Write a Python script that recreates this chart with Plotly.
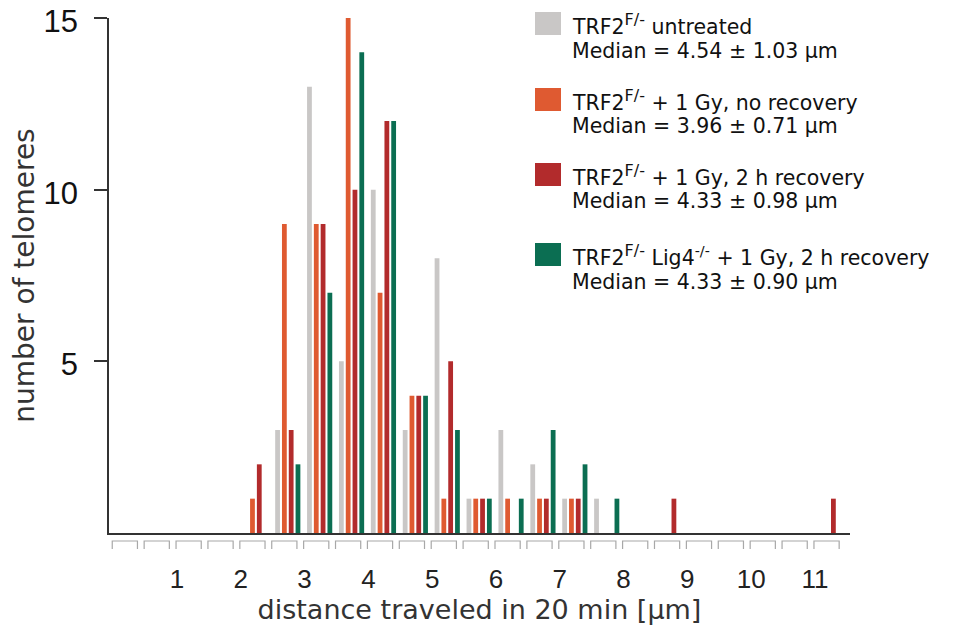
import plotly.graph_objects as go

# ---- data ----
bin_starts = [0.0, 0.5, 1.0, 1.5, 2.0, 2.5, 3.0, 3.5, 4.0, 4.5, 5.0, 5.5,
              6.0, 6.5, 7.0, 7.5, 8.0, 8.5, 9.0, 9.5, 10.0, 10.5, 11.0]
untreated    = [0, 0, 0, 0, 0, 3, 13, 5, 10, 3, 8, 1, 3, 2, 1, 1, 0, 0, 0, 0, 0, 0, 0]
no_recovery  = [0, 0, 0, 0, 1, 9, 9, 15, 7, 4, 1, 1, 1, 1, 1, 0, 0, 0, 0, 0, 0, 0, 0]
recovery_2h  = [0, 0, 0, 0, 2, 3, 9, 10, 12, 4, 5, 1, 0, 1, 1, 0, 0, 1, 0, 0, 0, 0, 1]
lig4_2h      = [0, 0, 0, 0, 0, 2, 7, 14, 12, 4, 3, 1, 1, 3, 2, 1, 0, 0, 0, 0, 0, 0, 0]

series_values = [untreated, no_recovery, recovery_2h, lig4_2h]
SUP = "<sup><span style='font-size:16px'>%s</span></sup>"
series_names = ["TRF2" + SUP % "F/-" + " untreated",
                "TRF2" + SUP % "F/-" + " + 1 Gy, no recovery",
                "TRF2" + SUP % "F/-" + " + 1 Gy, 2 h recovery",
                "TRF2" + SUP % "F/-" + " Lig4<sup>-/-</sup> + 1 Gy, 2 h recovery"]
medians = ["Median = 4.54 \u00b1 1.03 \u03bcm",
           "Median = 3.96 \u00b1 0.71 \u03bcm",
           "Median = 4.33 \u00b1 0.98 \u03bcm",
           "Median = 4.33 \u00b1 0.90 \u03bcm"]
colors = ["#c9c7c6", "#df5a31", "#b22b2c", "#0b6e52"]

x_tick_vals = [1, 2, 3, 4, 5, 6, 7, 8, 9, 10, 11]
y_tick_vals = [5, 10, 15]

TICKFONT = "Liberation Sans, Arial, Helvetica, sans-serif"
TEXTFONT = "DejaVu Sans, Verdana, sans-serif"

# ---- layout geometry (reference pixels; page body adds an 8px offset) ----
OFF = 8
W, H = 956 - OFF, 627 - OFF
L, R, T, B = 109, 850, 18, 533   # plot area in reference pixels
pw, ph = R - L, B - T

def px(xp):
    return (xp - L) / pw

def py(yp):
    return (B - yp) / ph

bar_w = 0.075
pitch = 0.1066
first_off = 0.039

fig = go.Figure()
for i, (vals, name, col) in enumerate(zip(series_values, series_names, colors)):
    fig.add_trace(go.Bar(
        x=bin_starts, y=vals, name=name,
        width=bar_w, offset=first_off + i * pitch,
        marker=dict(color=col, line=dict(width=0)),
        showlegend=False,
    ))

shapes = []
# bin boxes under the x axis
for s in bin_starts:
    x0, x1 = s - 0.015, s + 0.38
    shapes.append(dict(
        type="path", xref="x", yref="paper",
        path=f"M {x0},{py(549)} L {x0},{py(541)} L {x1},{py(541)} L {x1},{py(549)}",
        line=dict(color="#a8a8a8", width=1.2),
    ))

# custom legend
sq_tops = [12, 88, 163, 243]
line1_base = [36, 112, 187, 267]
line2_base = [60, 135, 210, 291]
annotations = []
LF = 20.5
for i in range(4):
    shapes.append(dict(
        type="rect", xref="paper", yref="paper",
        x0=px(535), x1=px(561), y0=py(sq_tops[i] + 23), y1=py(sq_tops[i]),
        fillcolor=colors[i], line=dict(width=0),
    ))
    annotations.append(dict(
        xref="paper", yref="paper", x=px(570), y=py(line1_base[i] + 0.236 * LF),
        xanchor="left", yanchor="bottom", showarrow=False,
        text=series_names[i], font=dict(family=TEXTFONT, size=LF, color="#111"),
    ))
    annotations.append(dict(
        xref="paper", yref="paper", x=px(570), y=py(line2_base[i] + 0.236 * LF),
        xanchor="left", yanchor="bottom", showarrow=False,
        text=medians[i], font=dict(family=TEXTFONT, size=LF, color="#111"),
    ))

fig.update_layout(
    template="none",
    width=W, height=H,
    margin=dict(l=L - OFF, r=956 - R, t=T - OFF, b=627 - B, pad=0, autoexpand=False),
    paper_bgcolor="white", plot_bgcolor="white",
    barmode="overlay",
    shapes=shapes, annotations=annotations,
    font=dict(family=TEXTFONT, color="#222"),
    xaxis=dict(
        automargin=False,
        range=[-0.066, 11.55], tickvals=x_tick_vals,
        ticktext=[str(v) for v in x_tick_vals],
        ticks="", showgrid=False, zeroline=False,
        showline=True, linecolor="#333", linewidth=1.5,
        tickfont=dict(family=TICKFONT, size=26, color="#222"),
        ticklabelstandoff=22,
        ticklabeloverflow="allow",
        title=dict(text="distance traveled in 20 min [\u03bcm]",
                   font=dict(family=TEXTFONT, size=27, color="#333"), standoff=0),
    ),
    yaxis=dict(
        automargin=False,
        range=[0, 15], tickvals=y_tick_vals,
        ticks="outside", ticklen=13, tickwidth=1.5, tickcolor="#333",
        showgrid=False, zeroline=False,
        showline=True, linecolor="#333", linewidth=1.5,
        tickfont=dict(family=TICKFONT, size=31, color="#111"),
        ticklabelstandoff=10,
        ticklabelshift=3,
        ticklabeloverflow="allow",
        title=dict(text="number of telomeres",
                   font=dict(family=TEXTFONT, size=28, color="#333"), standoff=2),
    ),
)

fig.write_html("out.html")
